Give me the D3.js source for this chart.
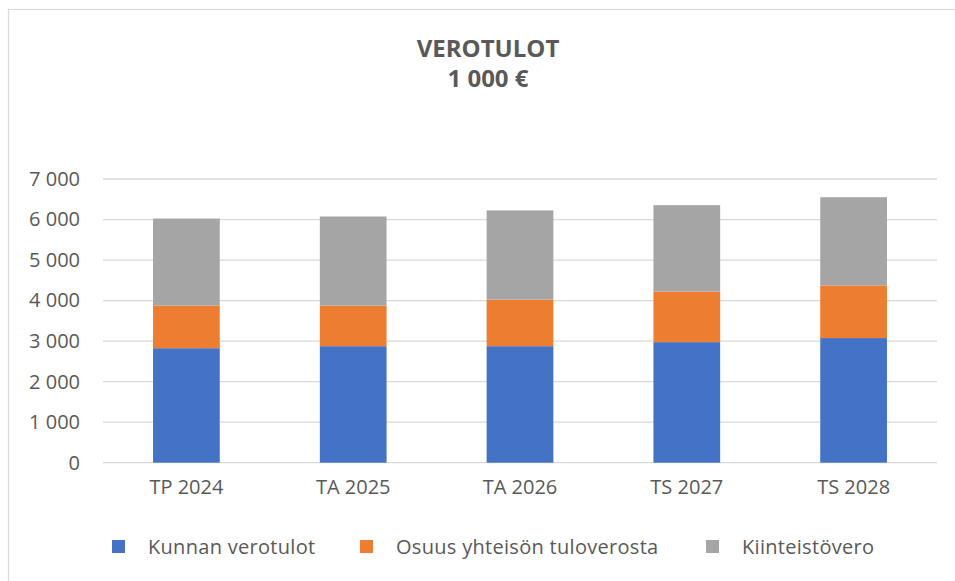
<!DOCTYPE html>
<html>
<head>
<meta charset="utf-8">
<script src="https://cdn.jsdelivr.net/npm/d3@7"></script>
<style>
  body { margin: 0; background: #fff; }
  svg { display: block; }
  text { font-family: "Open Sans", "Noto Sans", sans-serif; fill: #595959; }
</style>
</head>
<body>
<svg id="chart" width="955" height="581"></svg>
<script>
const categories = ["TP 2024", "TA 2025", "TA 2026", "TS 2027", "TS 2028"];
const seriesNames = ["Kunnan verotulot", "Osuus yhteisön tuloverosta", "Kiinteistövero"];
const kunnanVerotulot = [2825, 2875, 2875, 2975, 3075];
const osuusYhteisonTuloverosta = [1050, 1000, 1150, 1250, 1300];
const kiinteistovero = [2150, 2200, 2200, 2130, 2175];
const yTicks = [0, 1000, 2000, 3000, 4000, 5000, 6000, 7000];
const colors = ["#4472c4", "#ed7d31", "#a5a5a5"];
const titleLines = ["VEROTULOT", "1 000 €"];

const svg = d3.select("#chart");

// outer chart frame
svg.append("rect")
  .attr("x", 8.5).attr("y", 9.5)
  .attr("width", 1000).attr("height", 700)
  .attr("fill", "none").attr("stroke", "#d9d9d9").attr("stroke-width", 1.2);

const plot = { left: 103, right: 937, top: 179, bottom: 462.7 };

const x = d3.scaleBand()
  .domain(categories)
  .range([plot.left, plot.right])
  .paddingInner(0.6)
  .paddingOuter(0.3);

const y = d3.scaleLinear()
  .domain([0, 7000])
  .range([plot.bottom, plot.top]);

const fmt = v => d3.format(",")(v).replace(/,/g, " ");

// gridlines
svg.append("g")
  .selectAll("line")
  .data(yTicks)
  .join("line")
  .attr("x1", plot.left).attr("x2", plot.right)
  .attr("y1", d => y(d)).attr("y2", d => y(d))
  .attr("stroke", "#d9d9d9").attr("stroke-width", 1.3);

// y axis labels
const yAxis = d3.axisLeft(y).tickValues(yTicks).tickFormat(fmt).tickSize(0).tickPadding(0);
const yg = svg.append("g").attr("transform", "translate(80,0)").call(yAxis);
yg.select(".domain").remove();
yg.selectAll("text").attr("font-size", 20).attr("fill", "#595959")
  .attr("font-family", "'Open Sans', sans-serif");

// stacked data
const rows = categories.map((c, i) => ({
  cat: c,
  [seriesNames[0]]: kunnanVerotulot[i],
  [seriesNames[1]]: osuusYhteisonTuloverosta[i],
  [seriesNames[2]]: kiinteistovero[i]
}));
const stacked = d3.stack().keys(seriesNames)(rows);

svg.append("g")
  .selectAll("g")
  .data(stacked)
  .join("g")
  .attr("fill", (d, i) => colors[i])
  .selectAll("rect")
  .data(d => d)
  .join("rect")
  .attr("x", d => x(d.data.cat))
  .attr("width", x.bandwidth())
  .attr("y", d => y(d[1]))
  .attr("height", d => y(d[0]) - y(d[1]));

// x axis labels
const xAxis = d3.axisBottom(x).tickSize(0).tickPadding(0);
const xg = svg.append("g").attr("transform", "translate(0,480)").call(xAxis);
xg.select(".domain").remove();
xg.selectAll("text").attr("font-size", 20).attr("fill", "#595959")
  .attr("font-family", "'Open Sans', sans-serif");

// title
svg.append("g").selectAll("text")
  .data(titleLines)
  .join("text")
  .attr("x", 488)
  .attr("y", (d, i) => 57 + i * 30)
  .attr("text-anchor", "middle")
  .attr("font-size", 24)
  .attr("font-weight", "bold")
  .text(d => d);

// legend
const legendX = [112, 360, 706];
const lg = svg.append("g").selectAll("g")
  .data(seriesNames)
  .join("g")
  .attr("transform", (d, i) => `translate(${legendX[i]},540)`);
lg.append("rect").attr("width", 13).attr("height", 13).attr("fill", (d, i) => colors[i]);
lg.append("text")
  .attr("x", 36).attr("y", 14)
  .attr("font-size", 20)
  .attr("letter-spacing", 0.3)
  .text(d => d);
</script>
</body>
</html>
